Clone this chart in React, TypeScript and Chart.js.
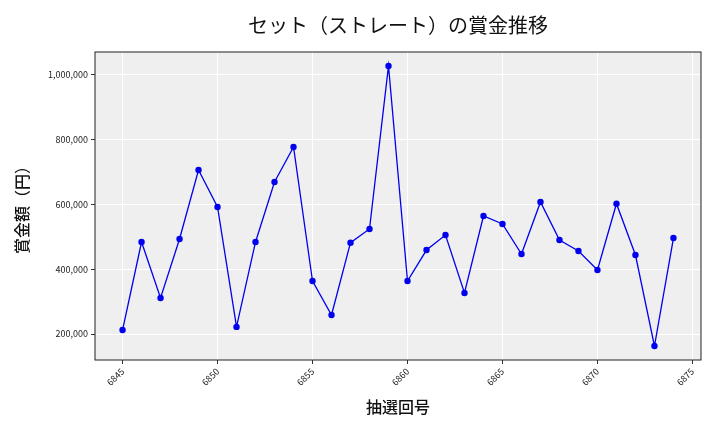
import { useRef, useEffect } from 'react';
import { Chart, registerables } from 'chart.js';

Chart.register(...registerables);

// 抽選回号 and 賞金 (円)
const drawNumbers = [
  6845, 6846, 6847, 6848, 6849, 6850, 6851, 6852, 6853, 6854,
  6855, 6856, 6857, 6858, 6859, 6860, 6861, 6862, 6863, 6864,
  6865, 6866, 6867, 6868, 6869, 6870, 6871, 6872, 6873, 6874,
];
const prizes = [
  212300, 483800, 311000, 493000, 706000, 592000, 222000, 484000, 669000, 777000,
  363500, 258600, 481700, 524000, 1026800, 363500, 459000, 505400, 326500, 564000,
  539400, 446800, 607200, 490000, 456000, 397400, 602000, 443700, 163000, 496000,
];
const xTicks = [6845, 6850, 6855, 6860, 6865, 6870, 6875];
const yTicks = [200000, 400000, 600000, 800000, 1000000];

const FONT = '"Noto Sans CJK JP", "DejaVu Sans", sans-serif';

const plotBg = {
  id: 'plotBg',
  beforeDraw(chart: any) {
    const { ctx, chartArea: a } = chart;
    ctx.save();
    ctx.fillStyle = '#efefef';
    ctx.fillRect(a.left, a.top, a.right - a.left, a.bottom - a.top);
    ctx.restore();
  },
  afterDraw(chart: any) {
    const { ctx, chartArea: a } = chart;
    ctx.save();
    ctx.strokeStyle = '#222';
    ctx.lineWidth = 1;
    ctx.strokeRect(a.left, a.top, a.right - a.left, a.bottom - a.top);
    ctx.restore();
  },
};

export default function App() {
  const canvasRef = useRef<HTMLCanvasElement>(null);
  const chartRef = useRef<Chart | null>(null);

  useEffect(() => {
    if (!canvasRef.current) return;
    if (chartRef.current) chartRef.current.destroy();

    chartRef.current = new Chart(canvasRef.current, {
      type: 'line',
      data: {
        datasets: [
          {
            data: drawNumbers.map((x, i) => ({ x, y: prizes[i] })),
            borderColor: '#0000ee',
            backgroundColor: '#0000ee',
            borderWidth: 1.3,
            pointRadius: 3.2,
            pointBorderWidth: 0,
            tension: 0,
          },
        ],
      },
      options: {
        animation: false,
        responsive: false,
        devicePixelRatio: 1,
        layout: { padding: { left: 0, right: 19, top: 0, bottom: 0 } },
        plugins: {
          legend: { display: false },
          tooltip: { enabled: false },
          title: {
            display: true,
            fullSize: false,
            text: 'セット（ストレート）の賞金推移',
            color: '#111',
            font: { family: FONT, size: 20, weight: 'normal' },
            padding: { top: 13, bottom: 15 },
          },
        },
        scales: {
          x: {
            type: 'linear',
            min: 6843.55,
            max: 6875.45,
            afterBuildTicks: (s: any) => {
              s.ticks = xTicks.map((v) => ({ value: v }));
            },
            afterFit: (s: any) => {
              s.height = 72;
            },
            grid: { color: '#ffffff', lineWidth: 1, tickColor: '#333', tickLength: 4 },
            border: { display: false },
            ticks: {
              color: '#222',
              font: { family: FONT, size: 9 },
              minRotation: 45,
              maxRotation: 45,
              padding: 2,
              callback: (v: any) => String(v),
            },
            title: {
              display: true,
              text: '抽選回号',
              color: '#111',
              font: { family: FONT, size: 16, weight: 500 },
              padding: { top: 6, bottom: 15 },
            },
          },
          y: {
            type: 'linear',
            min: 119810,
            max: 1069990,
            afterBuildTicks: (s: any) => {
              s.ticks = yTicks.map((v) => ({ value: v }));
            },
            afterFit: (s: any) => {
              s.width = 95;
            },
            grid: { color: '#ffffff', lineWidth: 1, tickColor: '#333', tickLength: 4 },
            border: { display: false },
            ticks: {
              color: '#222',
              font: { family: FONT, size: 9 },
              padding: 3,
              callback: (v: any) => Number(v).toLocaleString('en-US'),
            },
            title: {
              display: true,
              text: '賞金額（円）',
              color: '#111',
              font: { family: FONT, size: 16, weight: 500 },
              padding: { top: 12, bottom: 4 },
            },
          },
        },
      },
      plugins: [plotBg],
    });

    return () => {
      if (chartRef.current) {
        chartRef.current.destroy();
        chartRef.current = null;
      }
    };
  }, []);

  return (
    <div style={{ position: 'fixed', left: 0, top: 0, width: 720, height: 432, background: '#fff' }}>
      <canvas ref={canvasRef} width={720} height={432} />
    </div>
  );
}
